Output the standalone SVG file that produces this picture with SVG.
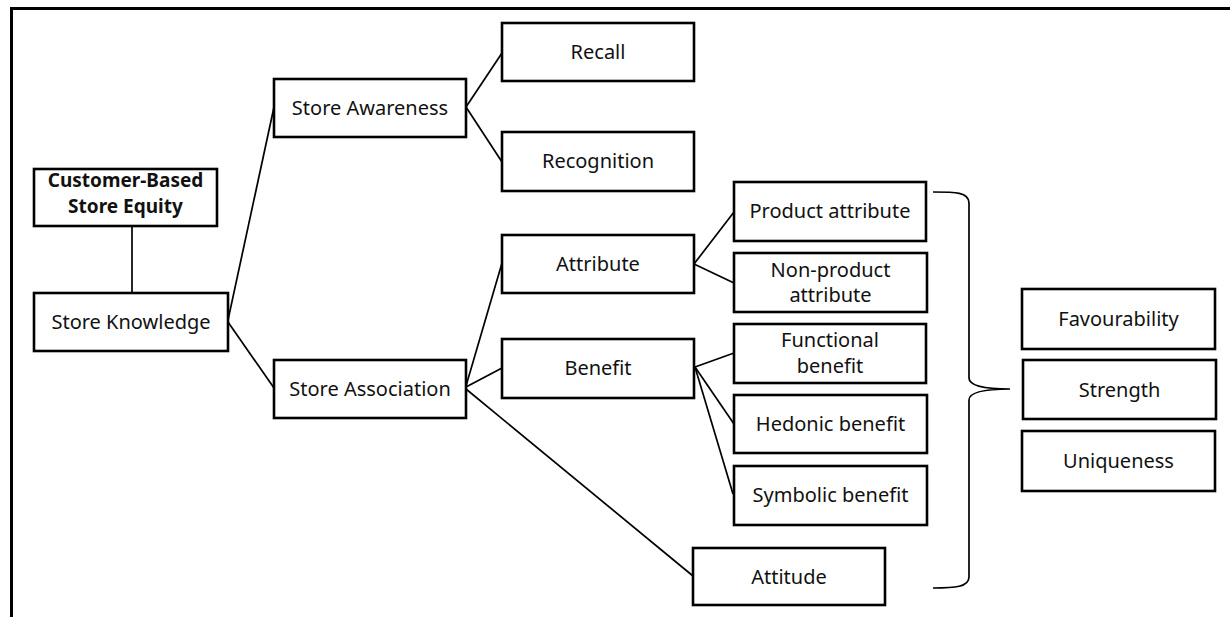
<svg xmlns="http://www.w3.org/2000/svg" width="1230" height="617" viewBox="0 0 1230 617">
<style>
.box{fill:#fff;stroke:#000;stroke-width:2.6}
.t{font-family:"Noto Sans","Open Sans",sans-serif;font-size:20px;fill:#111;text-anchor:middle}
.b{font-weight:bold;font-size:19px}
.c{stroke:#000;stroke-width:1.7;fill:none}
</style>
<rect width="1230" height="617" fill="#fff"/>
<path d="M11.5,617 L11.5,8.5 L1230,8.5" fill="none" stroke="#000" stroke-width="3"/>
<g id="connectors">
<line class="c" x1="132" y1="226" x2="132" y2="293"/>
<line class="c" x1="228" y1="320" x2="274" y2="107"/>
<line class="c" x1="228" y1="322" x2="274" y2="388"/>
<line class="c" x1="466" y1="107" x2="502" y2="53"/>
<line class="c" x1="466" y1="107" x2="502" y2="162"/>
<line class="c" x1="466" y1="386" x2="502" y2="263"/>
<line class="c" x1="466" y1="387" x2="502" y2="368"/>
<line class="c" x1="466" y1="389" x2="693" y2="576"/>
<line class="c" x1="694" y1="264" x2="734" y2="212"/>
<line class="c" x1="694" y1="264" x2="734" y2="283"/>
<line class="c" x1="695" y1="367" x2="734" y2="353"/>
<line class="c" x1="695" y1="367" x2="734" y2="424"/>
<line class="c" x1="695" y1="367" x2="733" y2="494"/>
<path class="c" d="M933,192 C955,192 969,192 969,203 L969,378 C969,386 985,389 1010,389 C985,389 969,392 969,400 L969,577 C969,587 955,588 933,588"/>
</g>
<g id="cbse"><rect class="box" x="34" y="169" width="183" height="57"/><text class="t b" x="125.5" y="187">Customer-Based</text><text class="t b" x="125.5" y="213">Store Equity</text></g>
<g id="store-knowledge"><rect class="box" x="34" y="293" width="194" height="58"/><text class="t" x="131" y="329">Store Knowledge</text></g>
<g id="store-awareness"><rect class="box" x="274" y="79" width="192" height="58"/><text class="t" x="370" y="115">Store Awareness</text></g>
<g id="store-association"><rect class="box" x="274" y="360" width="192" height="58"/><text class="t" x="370" y="396">Store Association</text></g>
<g id="recall"><rect class="box" x="502" y="23" width="192" height="58"/><text class="t" x="598" y="59">Recall</text></g>
<g id="recognition"><rect class="box" x="502" y="132" width="192" height="59"/><text class="t" x="598" y="168">Recognition</text></g>
<g id="attribute"><rect class="box" x="502" y="235" width="192" height="58"/><text class="t" x="598" y="271">Attribute</text></g>
<g id="benefit"><rect class="box" x="502" y="339" width="192" height="59"/><text class="t" x="598" y="375">Benefit</text></g>
<g id="attitude"><rect class="box" x="693" y="548" width="192" height="57"/><text class="t" x="789" y="584">Attitude</text></g>
<g id="product-attribute"><rect class="box" x="734" y="182" width="192" height="59"/><text class="t" x="830" y="218">Product attribute</text></g>
<g id="non-product-attribute"><rect class="box" x="734" y="253" width="193" height="59"/><text class="t" x="830.5" y="277">Non-product</text><text class="t" x="830.5" y="302">attribute</text></g>
<g id="functional-benefit"><rect class="box" x="734" y="324" width="192" height="59"/><text class="t" x="830" y="347">Functional</text><text class="t" x="830" y="373">benefit</text></g>
<g id="hedonic-benefit"><rect class="box" x="734" y="395" width="193" height="58"/><text class="t" x="830.5" y="431">Hedonic benefit</text></g>
<g id="symbolic-benefit"><rect class="box" x="734" y="466" width="193" height="59"/><text class="t" x="830.5" y="502">Symbolic benefit</text></g>
<g id="favourability"><rect class="box" x="1022" y="289" width="193" height="60"/><text class="t" x="1118.5" y="326">Favourability</text></g>
<g id="strength"><rect class="box" x="1023" y="360" width="193" height="59"/><text class="t" x="1119.5" y="397">Strength</text></g>
<g id="uniqueness"><rect class="box" x="1022" y="431" width="193" height="60"/><text class="t" x="1118.5" y="468">Uniqueness</text></g>
</svg>
